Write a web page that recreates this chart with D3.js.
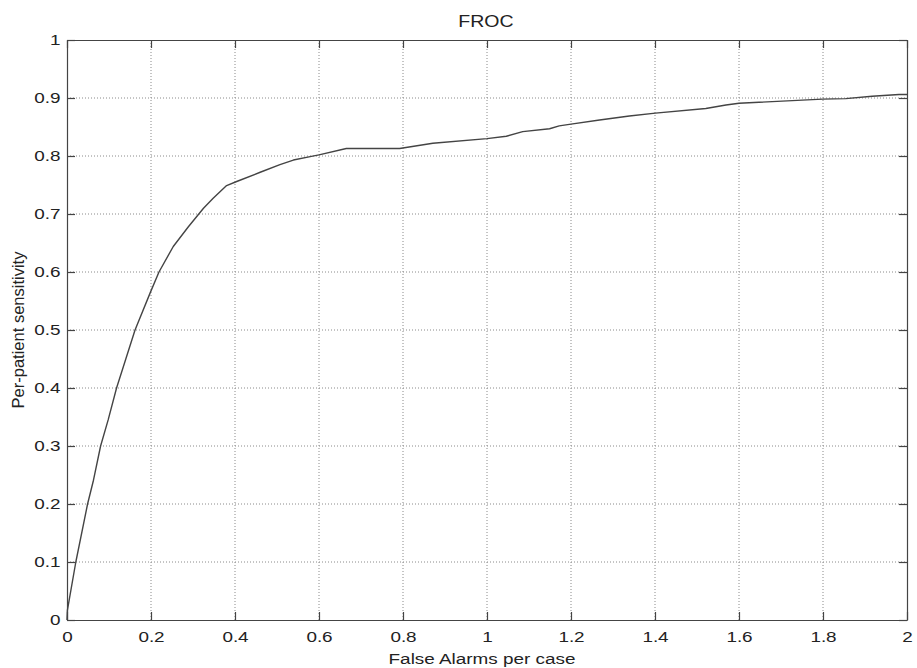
<!DOCTYPE html>
<html>
<head>
<meta charset="utf-8">
<script src="https://cdn.jsdelivr.net/npm/d3@7"></script>
<style>
  html, body { margin: 0; padding: 0; background: #fff; }
  svg text { font-family: "Liberation Sans", Arial, sans-serif; fill: #222; }
</style>
</head>
<body>
<svg id="chart" width="917" height="668"></svg>
<script>
// FROC curve: false alarms per case vs per-patient sensitivity
const falseAlarms = [0, 0.001, 0.021, 0.049, 0.063, 0.080, 0.098, 0.118, 0.140, 0.162, 0.198, 0.219,
  0.253, 0.289, 0.325, 0.348, 0.380, 0.404, 0.460, 0.507, 0.539, 0.579, 0.600, 0.665, 0.792,
  0.871, 1.000, 1.046, 1.085, 1.149, 1.172, 1.200, 1.268, 1.339, 1.401, 1.521, 1.569, 1.600,
  1.799, 1.854, 1.917, 1.981, 2.000];
const sensitivity = [0, 0.017, 0.100, 0.200, 0.241, 0.300, 0.345, 0.400, 0.450, 0.500, 0.564, 0.600,
  0.644, 0.678, 0.710, 0.727, 0.749, 0.756, 0.772, 0.785, 0.793, 0.799, 0.802, 0.813, 0.813,
  0.822, 0.830, 0.834, 0.842, 0.847, 0.852, 0.855, 0.862, 0.869, 0.874, 0.882, 0.888, 0.891,
  0.898, 0.899, 0.903, 0.906, 0.906];
const xTicks = [0, 0.2, 0.4, 0.6, 0.8, 1, 1.2, 1.4, 1.6, 1.8, 2];
const yTicks = [0, 0.1, 0.2, 0.3, 0.4, 0.5, 0.6, 0.7, 0.8, 0.9, 1];
const titleText = "FROC";
const xLabel = "False Alarms per case";
const yLabel = "Per-patient sensitivity";

const margin = { left: 67, right: 10, top: 40, bottom: 48 };
const W = 917, H = 668;
const svg = d3.select("#chart");

const x = d3.scaleLinear().domain([0, 2]).range([margin.left, W - margin.right]);
const y = d3.scaleLinear().domain([0, 1]).range([H - margin.bottom, margin.top]);

const x0 = x.range()[0], x1 = x.range()[1];
const y0 = y.range()[0], y1 = y.range()[1];

// horizontal stretch applied to the upright text
const stretch = 1.22;

// dotted grid
const grid = svg.append("g").attr("stroke", "#8a8a8a").attr("stroke-width", 1)
  .attr("stroke-dasharray", "1,2").attr("fill", "none");
xTicks.slice(1, -1).forEach(t => {
  grid.append("line").attr("x1", x(t)).attr("x2", x(t)).attr("y1", y1).attr("y2", y0);
});
yTicks.slice(1, -1).forEach(t => {
  grid.append("line").attr("x1", x0).attr("x2", x1).attr("y1", y(t)).attr("y2", y(t));
});

// axes with inward ticks on all four sides
const fmt = d => d3.format("")(d);
const tickLen = 8;
const bottomAxis = d3.axisBottom(x).tickValues(xTicks).tickFormat(fmt).tickSizeInner(-tickLen).tickSizeOuter(0).tickPadding(11);
const leftAxis = d3.axisLeft(y).tickValues(yTicks).tickFormat(fmt).tickSizeInner(-tickLen).tickSizeOuter(0);
const topAxis = d3.axisTop(x).tickValues(xTicks).tickFormat("").tickSizeInner(-tickLen).tickSizeOuter(0);
const rightAxis = d3.axisRight(y).tickValues(yTicks).tickFormat("").tickSizeInner(-tickLen).tickSizeOuter(0);

function styleAxis(g) {
  g.selectAll("path.domain").attr("stroke", "#444").attr("stroke-width", 1.2);
  g.selectAll(".tick line").attr("stroke", "#444").attr("stroke-width", 1.2);
  g.selectAll("text").attr("font-size", 15.5).attr("fill", "#222")
    .attr("transform", `scale(${stretch},1)`)
    .style("font-family", '"Liberation Sans", Arial, sans-serif');
}
svg.append("g").attr("transform", `translate(0,${y0})`).call(bottomAxis).call(styleAxis);
const gLeft = svg.append("g").attr("transform", `translate(${x0},0)`).call(leftAxis).call(styleAxis);
gLeft.selectAll("text").attr("x", -6.5 / stretch);
svg.append("g").attr("transform", `translate(0,${y1})`).call(topAxis).call(styleAxis);
svg.append("g").attr("transform", `translate(${x1},0)`).call(rightAxis).call(styleAxis);

// curve
const pts = falseAlarms.map((v, i) => [v, sensitivity[i]]);
svg.append("path").datum(pts)
  .attr("fill", "none").attr("stroke", "#444").attr("stroke-width", 1.4)
  .attr("stroke-linejoin", "round")
  .attr("d", d3.line().x(d => x(d[0])).y(d => y(d[1])));

// title and axis labels
svg.append("text").attr("transform", `translate(486,27) scale(1.15,1)`).attr("text-anchor", "middle")
  .attr("font-size", 17).text(titleText);
svg.append("text").attr("transform", `translate(482,664) scale(${stretch},1)`).attr("text-anchor", "middle")
  .attr("font-size", 15.5).text(xLabel);
svg.append("text").attr("transform", `translate(24,${(y0 + y1) / 2}) rotate(-90)`)
  .attr("text-anchor", "middle").attr("font-size", 16.5).text(yLabel);
</script>
</body>
</html>
